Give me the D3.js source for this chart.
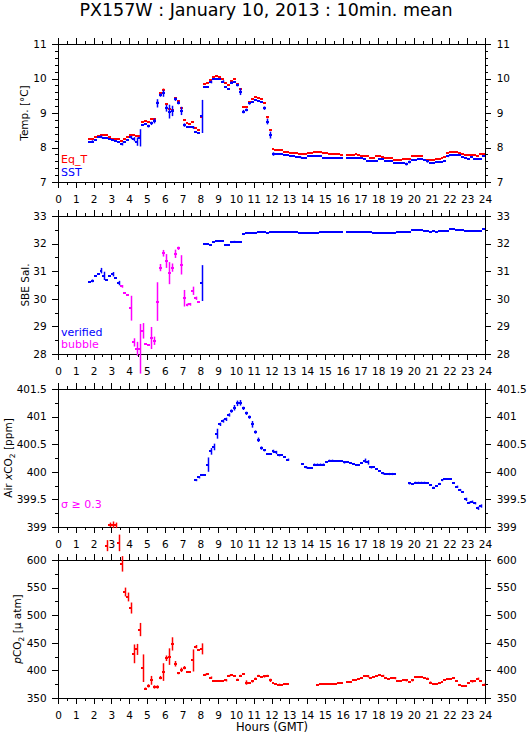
<!DOCTYPE html>
<html>
<head>
<meta charset="utf-8">
<script src="https://cdn.jsdelivr.net/npm/d3@7"></script>
<style>
body { margin: 0; background: #fff; }
svg { display: block; font-family: "DejaVu Sans", sans-serif; }
</style>
</head>
<body>
<svg></svg>
<script>
// 10-minute bins: bin k covers hour k/6 .. (k+1)/6
var hours = d3.range(0, 25);

// Temp. panel
var tempStart = 10;
var sst = [8.15, 8.17, 8.22, 8.29, 8.31, 8.28, 8.27, 8.25, 8.22, 8.20,
  8.17, 8.10, 8.17, 8.22, 8.29, 8.24, 8.17, 8.28, 8.65, 8.68,
  8.62, 8.70, 8.77, 9.28, 9.52, 9.57, 9.14, 9.04, 9.06, 9.40,
  9.30, 9.06, 8.65, 8.58, 8.60, 8.58, 8.45, 8.41, 8.90, 9.74,
  9.76, 9.90, 9.98, 9.98, 9.98, 9.91, 9.76, 9.71, 9.88, 9.91,
  9.81, 9.62, 9.04, 9.09, 9.28, 9.33, 9.37, 9.35, 9.32, 9.14,
  8.75, 8.36, 7.81, 7.81, 7.81, 7.80, 7.78, 7.78, 7.76, 7.76,
  7.73, 7.72, 7.70, 7.71, 7.74, 7.74, 7.74, 7.74, 7.74, 7.71,
  7.71, 7.70, 7.70, 7.69, 7.69, 7.69, null, 7.69, 7.69, 7.70,
  7.70, 7.70, 7.70, 7.67, 7.62, 7.61, 7.61, 7.61, 7.66, 7.66,
  7.61, 7.61, 7.61, 7.55, 7.54, 7.54, 7.55, 7.52, 7.58, 7.64,
  7.64, 7.67, 7.66, 7.64, 7.60, 7.54, 7.54, 7.57, 7.59, 7.59,
  7.62, 7.75, 7.78, 7.78, 7.78, 7.77, 7.72, 7.70, 7.68, 7.72,
  7.67, 7.67, 7.67, 7.74];
var eqT = [8.24, 8.24, 8.29, 8.34, 8.36, 8.36, 8.36, 8.29, 8.26, 8.26,
  8.24, 8.20, 8.25, 8.30, 8.37, 8.37, 8.32, 8.32, 8.73, 8.77,
  8.73, 8.82, 8.84, 9.30, 9.57, 9.67, 9.25, 9.11, 9.09, 9.44,
  9.35, 9.14, 8.79, 8.70, 8.68, 8.73, 8.56, 8.51, 8.89, 9.83,
  9.86, 9.96, 10.03, 10.07, 10.05, 9.98, 9.86, 9.81, 9.94, 9.98,
  9.84, 9.69, 9.16, 9.16, 9.33, 9.41, 9.45, 9.44, 9.40, 9.28,
  8.87, 8.51, 7.97, 7.93, 7.93, 7.93, 7.88, 7.88, 7.85, 7.85,
  7.83, 7.81, 7.81, 7.81, 7.83, 7.83, 7.86, 7.86, 7.86, 7.83,
  7.83, 7.81, 7.81, 7.81, 7.81, 7.78, null, 7.78, 7.78, 7.78,
  7.80, 7.79, 7.76, 7.76, 7.76, 7.69, 7.69, 7.75, 7.76, 7.73,
  7.69, 7.69, 7.69, 7.64, 7.64, 7.64, 7.66, 7.67, 7.66, 7.76,
  7.76, 7.76, 7.76, 7.64, 7.64, 7.64, 7.64, 7.67, 7.67, 7.70,
  7.73, 7.85, 7.88, 7.88, 7.86, 7.83, 7.80, 7.77, 7.77, 7.77,
  7.77, 7.75, 7.81, 7.81];
// [bin, std]
var sstErr = [[11, .04], [14, .04], [21, .04], [24, .05], [25, .06], [26, .12], [27, .25],
  [30, .04], [31, .05], [32, .07], [33, .12], [34, .05], [35, .1], [36, .1], [37, .2],
  [38, .15], [39, .05], [40, .05], [41, .12], [42, .05], [45, .04], [48, .48], [51, .04],
  [55, .04], [58, .04], [60, .04], [61, .1], [62, .05], [63, .04], [64, .04], [69, .05],
  [70, .08], [71, .1], [72, .05], [81, .03], [117, .04], [118, .04], [124, .04], [131, .03]];
var eqTErr = [[33, .04], [35, .04], [70, .03]];

// SBE Sal. panel
var salStart = 10;
var sal = [30.60, 30.65, 30.83, 30.89, 31.02, 30.83, 30.69, 30.83, 30.89, 30.75,
  30.57, 30.45, 30.20, 30.12, 29.66, 28.42, 28.19, 28.19, 28.84, 28.36,
  28.31, 28.58, 28.48, 29.90, 31.13, 31.65, 31.37, 30.93, 31.13, 31.63,
  31.83, 31.23, 30.02, 29.78, 29.80, 30.29, 30.02, 29.88, 30.57, 31.98,
  31.98, 31.95, 32.07, 32.10, 32.10, 32.10, 31.95, 31.95, 32.05, 32.07,
  32.05, 32.05, 32.34, 32.37, 32.37, 32.37, 32.37, 32.41, 32.41, 32.41,
  32.37, 32.41, 32.41, 32.41, 32.41, 32.41, 32.41, 32.41, 32.41, 32.41,
  32.41, 32.37, 32.37, 32.37, 32.37, 32.37, 32.37, 32.37, 32.41, 32.41,
  32.41, 32.41, 32.41, 32.41, 32.41, 32.41, null, 32.41, 32.41, 32.41,
  32.41, 32.41, 32.41, 32.41, 32.41, 32.41, 32.37, 32.37, 32.37, 32.37,
  32.37, 32.37, 32.37, 32.37, 32.41, 32.41, 32.41, 32.41, 32.41, 32.49,
  32.49, 32.49, 32.49, 32.46, 32.46, 32.43, 32.44, 32.42, 32.44, 32.44,
  32.45, 32.45, 32.52, 32.52, 32.49, 32.49, 32.49, 32.46, 32.46, 32.46,
  32.46, 32.46, 32.46, 32.52];
var salErr = [[11, .05], [14, .1], [15, .15], [18, .08], [20, .08], [21, .05], [24, .45],
  [25, .15], [26, .25], [27, .9], [28, .28], [31, .4], [32, .15], [33, .7], [34, .13],
  [35, .12], [36, .25], [37, .4], [38, .15], [39, .15], [40, .06], [41, .35], [42, .3],
  [43, .05], [44, .05], [45, .15], [46, .06], [48, .65], [53, .03], [58, .03], [59, .03]];
var bubbleBins = [21, 47];

// Air xCO2 panel
var airStart = 46;
var air = [399.85, 399.90, 399.94, 399.94,
  400.13, 400.37, 400.45, 400.69, 400.86, 400.92, 400.95, 401.03, 401.10, 401.16,
  401.24, 401.25, 401.15, 401.06, 400.99, 400.86, 400.72, 400.58, 400.43, 400.39,
  400.33, 400.32, 400.37, 400.35, 400.30, 400.30, 400.27, 400.22, null, null,
  null, null, 400.14, 400.08, 400.07, 400.07, 400.13, 400.13, 400.13, 400.13,
  400.17, 400.20, 400.20, 400.20, 400.20, 400.20, 400.17, 400.17, 400.16, 400.15,
  400.13, 400.13, 400.16, 400.20, 400.17, 400.08, 400.08, 400.05, 400.01, 399.97,
  399.96, 399.96, 399.96, 399.96, null, null, null, null, 399.79, 399.77,
  399.80, 399.80, 399.80, 399.80, 399.80, 399.76, 399.71, 399.75, 399.78, 399.85,
  399.87, 399.87, 399.87, 399.79, 399.73, 399.67, 399.63, 399.50, 399.44, 399.46,
  399.43, 399.34, 399.38];
var airErr = [[46, .02], [47, .02], [50, .13], [51, .06], [52, .06], [53, .09], [54, .03],
  [55, .03], [56, .03], [57, .03], [58, .03], [59, .05], [60, .05], [61, .05], [62, .03],
  [63, .03], [64, .03], [65, .06], [66, .03], [67, .04], [68, .03], [69, .02], [72, .03],
  [73, .03], [74, .02], [77, .02], [83, .02], [86, .02], [87, .02], [88, .02], [89, .02],
  [91, .02], [92, .02], [96, .02], [103, .04], [104, .04], [105, .02], [109, .02],
  [111, .02], [112, .02], [118, .02], [120, .02], [121, .02], [122, .02], [123, .02],
  [126, .02], [128, .02], [129, .02], [134, .02], [135, .02], [137, .03], [138, .02],
  [139, .02], [140, .02], [141, .03], [142, .03]];
// sigma >= 0.3
var airHiStart = 17;
var airHi = [399.04, 399.04, 399.03];
var airHiErr = [[17, .04], [18, .06], [19, .05]];

// pCO2 panel
var pco2Start = 16;
var pco2 = [626, null, null, null, 631, 593, 542, 533, 513, 430,
  438, 474, 404, 367, 372, 382, 370, 370, 387, 397,
  422, 425, 448, 412, 395, 401, 405, 398, 398, 418,
  443, 437, 439, 392, 394, 387, 380, 380, 380, 380,
  382, 390, 392, 389, 383, 390, 393, 378, 377, 380,
  385, 390, 388, 389, 390, 382, 378, 375, 374, 374,
  375, 376, null, null, null, null, null, null, null, null,
  null, 374, 375, 375, 376, 376, 376, 376, 377, 378,
  null, 379, 379, 382, 383, 384, 386, 390, 389, 387,
  388, 390, 392, 390, 387, 384, 387, 386, 380, 381,
  382, 382, 379, 382, 388, 388, 388, 387, 385, 378,
  376, 376, 378, 379, 382, 384, 385, 386, 380, 373,
  372, 372, 378, 380, 380, 385, 381, 374];
var pco2Err = [[16, 10], [20, 15], [21, 14], [22, 8], [23, 8], [24, 10], [25, 17], [26, 10],
  [27, 12], [28, 25], [29, 2], [30, 3], [31, 8], [32, 3], [33, 3], [34, 3], [35, 16],
  [36, 5], [37, 15], [38, 12], [39, 5], [40, 2], [41, 4], [42, 3], [45, 20], [46, 3],
  [48, 10], [49, 2], [51, 2], [56, 2], [57, 2], [60, 2], [61, 2], [63, 4], [65, 2],
  [66, 2], [67, 2], [69, 2], [70, 2], [71, 3], [74, 2], [104, 2], [109, 2], [113, 2],
  [117, 2], [119, 2], [124, 2], [125, 2], [139, 2], [141, 2], [143, 2]];

var screen = {width: 529, height: 739};
var plot = {left: 58, right: 485};
var panelH = 138;

var svg = d3.select("svg").attr("width", screen.width).attr("height", screen.height);

var xScale = d3.scaleLinear().domain([0, 24]).range([plot.left, plot.right]);

svg.append("text")
  .attr("x", 266).attr("y", 16)
  .attr("text-anchor", "middle")
  .attr("font-size", "17.5px")
  .text("PX157W : January 10, 2013 : 10min. mean");

var panels = [
  {top: 44, domain: [7, 11], major: 1, minor: 0.2, titleX: 28},
  {top: 216, domain: [28, 33], major: 1, minor: 0.5, titleX: 29},
  {top: 389, domain: [399, 401.5], major: 0.5, minor: 0.25, titleX: 12},
  {top: 560, domain: [350, 600], major: 50, minor: 25, titleX: 21}
];

function steps(lo, hi, step) {
  var n = Math.round((hi - lo) / step);
  return d3.range(n + 1).map(function(i) { return +(lo + i * step).toFixed(4); });
}

function styleAxis(g) {
  g.select(".domain").remove();
  g.selectAll("line").attr("stroke", "#000").attr("shape-rendering", "crispEdges");
  g.selectAll("text").attr("font-size", "10.5px").attr("font-family", "DejaVu Sans, sans-serif").attr("fill", "#000");
}

var yScales = panels.map(function(p) {
  var y = d3.scaleLinear().domain(p.domain).range([p.top + panelH, p.top]);
  var g = svg.append("g");
  var majorTicks = steps(p.domain[0], p.domain[1], p.major);
  var minorTicks = steps(p.domain[0], p.domain[1], p.minor);
  var hourMinor = steps(0, 24, 0.5);

  g.append("g").attr("transform", "translate(0," + (p.top + panelH) + ")")
    .call(d3.axisBottom(xScale).tickValues(hourMinor).tickSize(3).tickFormat("")).call(styleAxis);
  g.append("g").attr("transform", "translate(0," + (p.top + panelH) + ")")
    .call(d3.axisBottom(xScale).tickValues(hours).tickSize(6).tickPadding(7.5).tickFormat(d3.format("d"))).call(styleAxis);
  g.append("g").attr("transform", "translate(0," + p.top + ")")
    .call(d3.axisTop(xScale).tickValues(hourMinor).tickSize(3).tickFormat("")).call(styleAxis);
  g.append("g").attr("transform", "translate(0," + p.top + ")")
    .call(d3.axisTop(xScale).tickValues(hours).tickSize(6).tickFormat("")).call(styleAxis);

  g.append("g").attr("transform", "translate(" + plot.left + ",0)")
    .call(d3.axisLeft(y).tickValues(minorTicks).tickSize(3).tickFormat("")).call(styleAxis);
  g.append("g").attr("transform", "translate(" + plot.left + ",0)")
    .call(d3.axisLeft(y).tickValues(majorTicks).tickSize(6).tickPadding(5.3).tickFormat(function(d) { return String(d); })).call(styleAxis);
  g.append("g").attr("transform", "translate(" + plot.right + ",0)")
    .call(d3.axisRight(y).tickValues(minorTicks).tickSize(3).tickFormat("")).call(styleAxis);
  g.append("g").attr("transform", "translate(" + plot.right + ",0)")
    .call(d3.axisRight(y).tickValues(majorTicks).tickSize(6).tickPadding(5.7).tickFormat(function(d) { return String(d); })).call(styleAxis);

  g.append("rect")
    .attr("x", plot.left).attr("y", p.top)
    .attr("width", plot.right - plot.left).attr("height", panelH)
    .attr("fill", "none").attr("stroke", "#000").attr("shape-rendering", "crispEdges");
  return y;
});

// step series: a short horizontal bar per 10-min bin and a vertical std bar
function drawSeries(y, start, vals, errs, colorOf) {
  var g = svg.append("g");
  var pts = vals.map(function(v, j) { return {k: start + j, v: v}; })
    .filter(function(d) { return d.v !== null; });
  g.selectAll(null).data(pts).enter().append("line")
    .attr("x1", function(d) { return xScale(d.k / 6); })
    .attr("x2", function(d) { return xScale((d.k + 1) / 6); })
    .attr("y1", function(d) { return Math.round(y(d.v)); })
    .attr("y2", function(d) { return Math.round(y(d.v)); })
    .attr("stroke-width", 2)
    .attr("shape-rendering", "crispEdges")
    .attr("stroke", function(d) { return colorOf(d.k); });
  var bars = errs.map(function(e) { return {k: e[0], e: e[1], v: vals[e[0] - start]}; })
    .filter(function(d) { return d.v !== null && d.v !== undefined; });
  g.selectAll(null).data(bars).enter().append("line")
    .attr("x1", function(d) { return Math.round(xScale((d.k + 0.5) / 6)) + 0.5; })
    .attr("x2", function(d) { return Math.round(xScale((d.k + 0.5) / 6)) + 0.5; })
    .attr("y1", function(d) { return y(d.v - d.e); })
    .attr("y2", function(d) { return y(d.v + d.e); })
    .attr("stroke-width", 1.5)
    .attr("stroke", function(d) { return colorOf(d.k); });
}

var red = "#ff0000", blue = "#0000ff", magenta = "#ff00ff";

drawSeries(yScales[0], tempStart, eqT, eqTErr, function() { return red; });
drawSeries(yScales[0], tempStart, sst, sstErr, function() { return blue; });
drawSeries(yScales[1], salStart, sal, salErr, function(k) {
  return (k >= bubbleBins[0] && k <= bubbleBins[1]) ? magenta : blue;
});
drawSeries(yScales[2], airStart, air, airErr, function() { return blue; });
drawSeries(yScales[2], airHiStart, airHi, airHiErr, function() { return red; });
drawSeries(yScales[3], pco2Start, pco2, pco2Err, function() { return red; });

// legends
function legend(x, y, txt, color) {
  svg.append("text").attr("x", x).attr("y", y).attr("font-size", "11px").attr("fill", color).text(txt);
}
legend(61, 163, "Eq_T", red);
legend(61, 176, "SST", blue);
legend(61, 336, "verified", blue);
legend(61, 348, "bubble", magenta);
legend(61, 508, "\u03c3 \u2265 0.3", magenta);

// y titles
var titles = [
  function(t) { t.text("Temp. [\u00b0C]"); },
  function(t) { t.text("SBE Sal."); },
  function(t) {
    t.append("tspan").text("Air ");
    t.append("tspan").attr("font-style", "italic").text("x");
    t.append("tspan").text("CO");
    t.append("tspan").attr("font-size", "7.5px").attr("dy", 2.5).text("2");
    t.append("tspan").attr("dy", -2.5).text(" [ppm]");
  },
  function(t) {
    t.append("tspan").attr("font-style", "italic").text("p");
    t.append("tspan").text("CO");
    t.append("tspan").attr("font-size", "7.5px").attr("dy", 2.5).text("2");
    t.append("tspan").attr("dy", -2.5).text(" [\u03bc atm]");
  }
];
panels.forEach(function(p, i) {
  var cy = p.top + panelH / 2;
  var t = svg.append("text")
    .attr("transform", "translate(" + p.titleX + "," + cy + ") rotate(-90)")
    .attr("text-anchor", "middle")
    .attr("font-size", "10.5px");
  titles[i](t);
});

svg.append("text")
  .attr("x", 272).attr("y", 731)
  .attr("text-anchor", "middle")
  .attr("font-size", "11.5px")
  .text("Hours (GMT)");
</script>
</body>
</html>
